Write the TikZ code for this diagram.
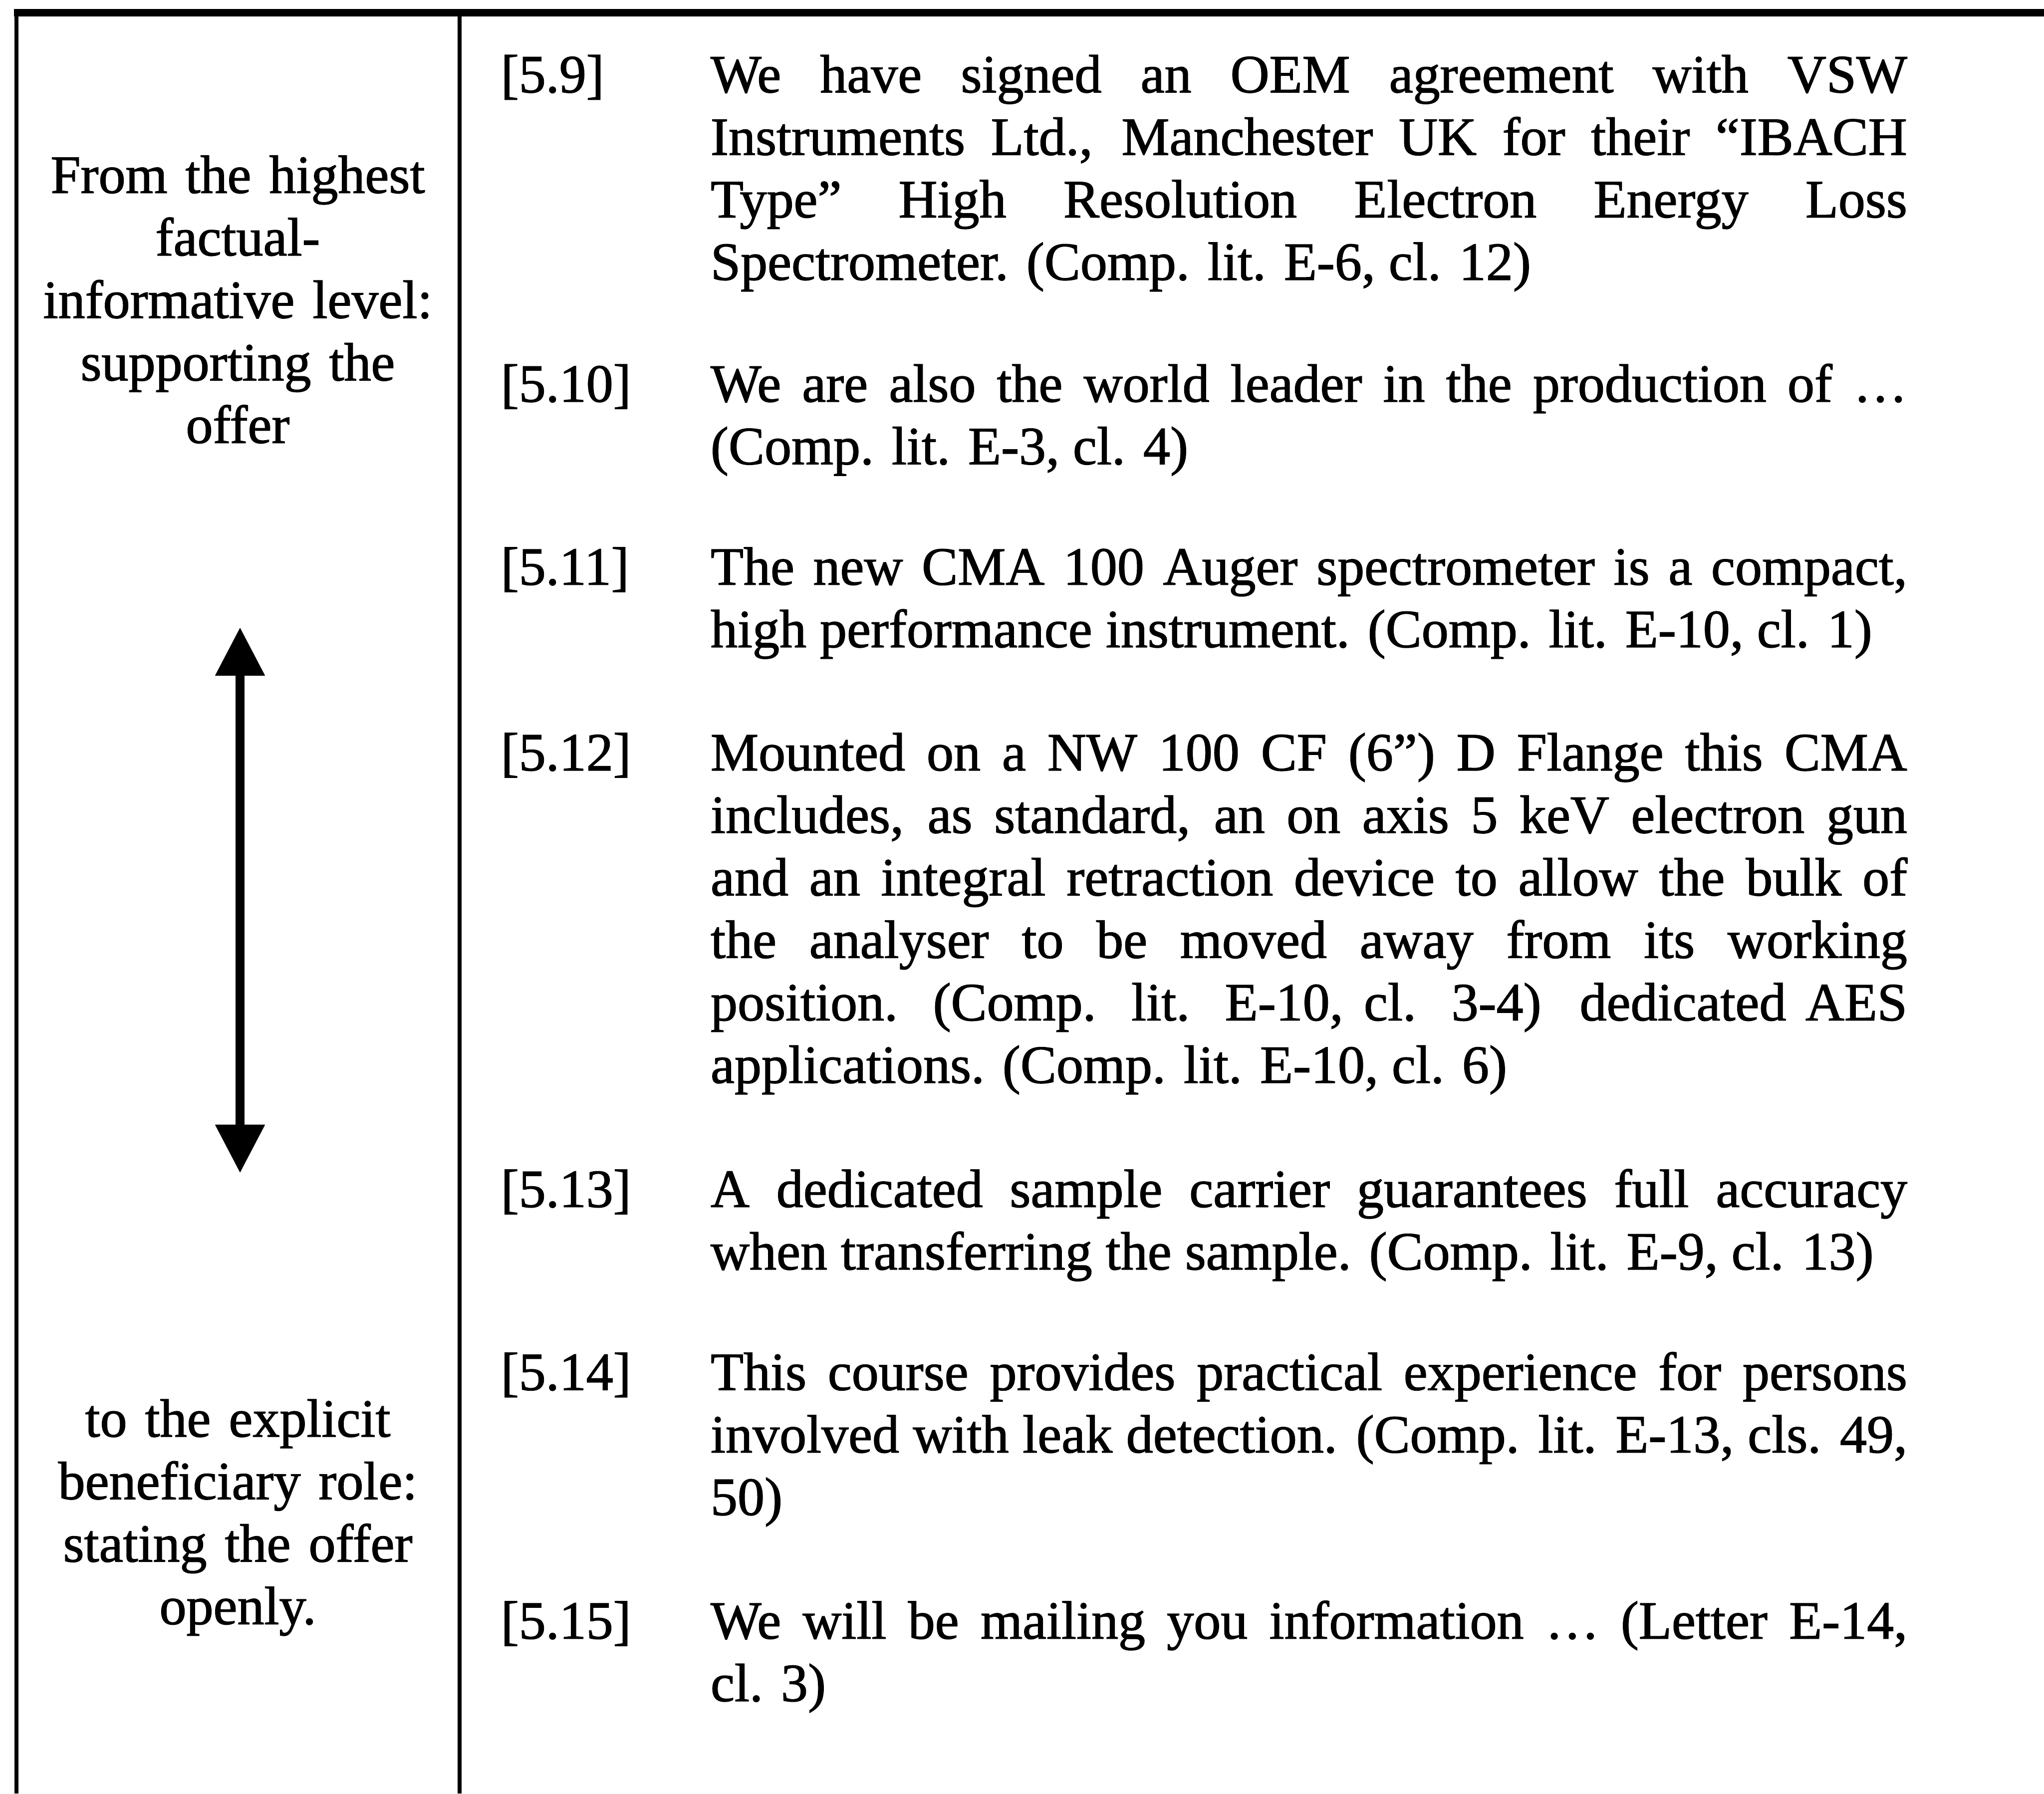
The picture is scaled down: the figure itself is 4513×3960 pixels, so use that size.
\documentclass[tikz,border=0pt]{standalone}
\usepackage{fontspec}
\setmainfont{Liberation Serif}[FakeBold=1.3]
\usetikzlibrary{arrows.meta}
\newcommand\nobreakhyph{\hyphenpenalty=10000\relax\exhyphenpenalty=10000\relax\tolerance=10000\relax\hbadness=10000\relax}
\tikzset{
  tablerule/.style={line width=0.9pt},
  headrule/.style={line width=1.7pt},
  itemlabel/.style={anchor=base west, inner sep=0pt, font=\fontsize{11.9}{13.8}\selectfont},
  itembody/.style={anchor=base west, inner sep=0pt, text width=264.2pt, align=justify,
    font=\fontsize{11.9}{13.8}\selectfont\nobreakhyph},
  sidetext/.style={anchor=base, inner sep=0pt, text width=96pt, align=center, font=\fontsize{11.9}{13.8}\selectfont},
  dblarrow/.style={line width=2pt, {Triangle[length=10.7pt,width=10.5pt]}-{Triangle[length=10.7pt,width=10.5pt]}},
}
\begin{document}
\begin{tikzpicture}[x=0.1pt,y=-0.1pt]
\useasboundingbox (0,0) rectangle (4513,3960);
% table rules
\coordinate (topleft) at (31,28);
\coordinate (topright) at (4513,28);
\coordinate (lefttop) at (36,28);
\coordinate (leftbot) at (36,3960);
\coordinate (septop) at (1015,28);
\coordinate (sepbot) at (1015,3960);
\draw[headrule] (topleft) -- (topright);
\draw[tablerule] (lefttop) -- (leftbot);
\draw[tablerule] (septop) -- (sepbot);

% left column
\node[sidetext] (hightext) at (525,426) {From the highest\\factual-\\informative level:\\supporting the\\offer};
\node[sidetext] (lowtext) at (525,3172) {to the explicit\\beneficiary role:\\stating the offer\\openly.};
\coordinate (arrowtop) at (530,1385);
\coordinate (arrowbot) at (530,2590);
\draw[dblarrow] (arrowtop) -- (arrowbot);

% right column
\node[itemlabel] (l9) at (1104,204) {[5.9]};
\node[itembody] (b9) at (1567,204) {We have signed an OEM agreement with VSW\linebreak
Instruments Ltd., Manchester UK for their “IBACH\linebreak
Type” High Resolution Electron Energy Loss\linebreak
Spectrometer. (Comp. lit. E-6, cl. 12)};

\node[itemlabel] (l10) at (1104,887) {[5.10]};
\node[itembody] (b10) at (1567,887) {We are also the world leader in the production of …\linebreak
(Comp. lit. E-3, cl. 4)};

\node[itemlabel] (l11) at (1104,1291) {[5.11]};
\node[itembody] (b11) at (1567,1291) {The new CMA 100 Auger spectrometer is a compact,\linebreak
high performance instrument. (Comp. lit. E-10, cl. 1)};

\node[itemlabel] (l12) at (1104,1701) {[5.12]};
\node[itembody] (b12) at (1567,1701) {Mounted on a NW 100 CF (6”) D Flange this CMA\linebreak
includes, as standard, an on axis 5 keV electron gun\linebreak
and an integral retraction device to allow the bulk of\linebreak
the analyser to be moved away from its working\linebreak
position. (Comp. lit. E-10, cl. 3-4)\ \ dedicated AES\linebreak
applications. (Comp. lit. E-10, cl. 6)};

\node[itemlabel] (l13) at (1104,2665) {[5.13]};
\node[itembody] (b13) at (1567,2665) {A dedicated sample carrier guarantees full accuracy\linebreak
when transferring the sample. (Comp. lit. E-9, cl. 13)};

\node[itemlabel] (l14) at (1104,3069) {[5.14]};
\node[itembody] (b14) at (1567,3069) {This course provides practical experience for persons\linebreak
involved with leak detection. (Comp. lit. E-13, cls. 49,\linebreak
50)};

\node[itemlabel] (l15) at (1104,3618) {[5.15]};
\node[itembody] (b15) at (1567,3618) {We will be mailing you information … (Letter E-14,\linebreak
cl. 3)};
\end{tikzpicture}
\end{document}
